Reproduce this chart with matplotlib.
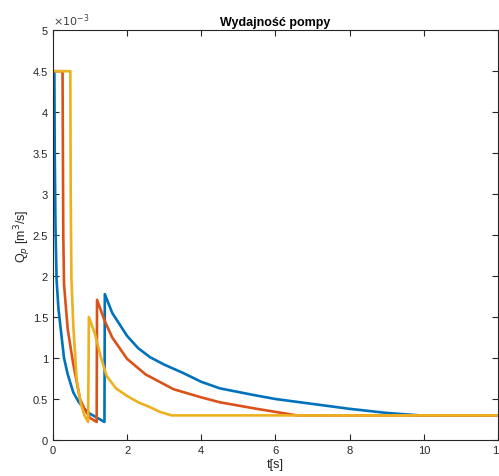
import numpy as np
import matplotlib.pyplot as plt

plt.rcParams['font.family'] = ['Liberation Sans', 'DejaVu Sans']

# time [s] and flow [1e-3 m^3/s] for the three runs
t_blue = [0, 0.04, 0.05, 0.07, 0.1, 0.15, 0.2, 0.3, 0.4, 0.55, 0.7, 0.85, 1.0, 1.2, 1.39,
          1.40, 1.6, 2.0, 2.3, 2.62, 3.0, 3.5, 4.0, 4.5, 5.4, 6.0, 7.0, 8.0, 9.0, 9.9, 12]
q_blue = [4.5, 4.5, 3.5, 2.6, 1.95, 1.6, 1.4, 1.0, 0.8, 0.58, 0.46, 0.38, 0.32, 0.27, 0.22,
          1.78, 1.55, 1.27, 1.12, 1.01, 0.92, 0.82, 0.71, 0.63, 0.55, 0.5, 0.44, 0.38, 0.33, 0.3, 0.3]

t_orange = [0, 0.26, 0.27, 0.28, 0.3, 0.4, 0.54, 0.73, 0.85, 1.0, 1.18,
            1.19, 1.4, 1.6, 2.0, 2.5, 3.25, 4.0, 4.5, 5.5, 6.58, 12]
q_orange = [4.5, 4.5, 3.5, 2.5, 1.9, 1.35, 0.95, 0.5, 0.38, 0.27, 0.22,
            1.71, 1.45, 1.25, 0.99, 0.8, 0.62, 0.52, 0.46, 0.38, 0.3, 0.3]

t_yellow = [0, 0.47, 0.48, 0.5, 0.55, 0.64, 0.75, 0.85, 0.95,
            0.97, 1.13, 1.3, 1.45, 1.7, 1.99, 2.3, 2.62, 2.9, 3.2, 12]
q_yellow = [4.5, 4.5, 3.0, 1.96, 1.4, 0.74, 0.45, 0.3, 0.22,
            1.5, 1.3, 1.0, 0.78, 0.63, 0.54, 0.46, 0.4, 0.34, 0.3, 0.3]

fig = plt.figure(figsize=(4.99, 4.77), dpi=100)
ax = fig.add_axes([0.106, 0.0755, 0.892, 0.859])

ax.plot(t_blue, np.array(q_blue) * 1e-3, color='#0072BD', lw=1.9)
ax.plot(t_orange, np.array(q_orange) * 1e-3, color='#D95319', lw=1.9)
ax.plot(t_yellow, np.array(q_yellow) * 1e-3, color='#EDB120', lw=1.9)

ax.set_xlim(0, 12)
ax.set_ylim(0, 5e-3)
ax.set_xticks(np.arange(0, 13, 2))
ax.set_yticks(np.arange(0, 5.01e-3, 0.5e-3))
ax.set_yticklabels(['0', '0.5', '1', '1.5', '2', '2.5', '3', '3.5', '4', '4.5', '5'])
ax.tick_params(direction='in', top=True, right=True, labelsize=8, colors='#262626', length=4)
ax.text(0.0, 1.005, r'$\times 10^{-3}$', transform=ax.transAxes, fontsize=8,
        color='#404040', va='bottom', ha='left')
for s in ax.spines.values():
    s.set_color('#262626')
    s.set_linewidth(0.8)

ax.set_xlabel('t[s]', fontsize=9, color='#262626', labelpad=2)
ax.set_ylabel(r'Q$_p$ [m$^3$/s]', fontsize=9, color='#262626', labelpad=0)
ax.set_title('Wydajność pompy', fontsize=9, fontweight='bold', pad=4)

fig.savefig('out.png', dpi=100)
